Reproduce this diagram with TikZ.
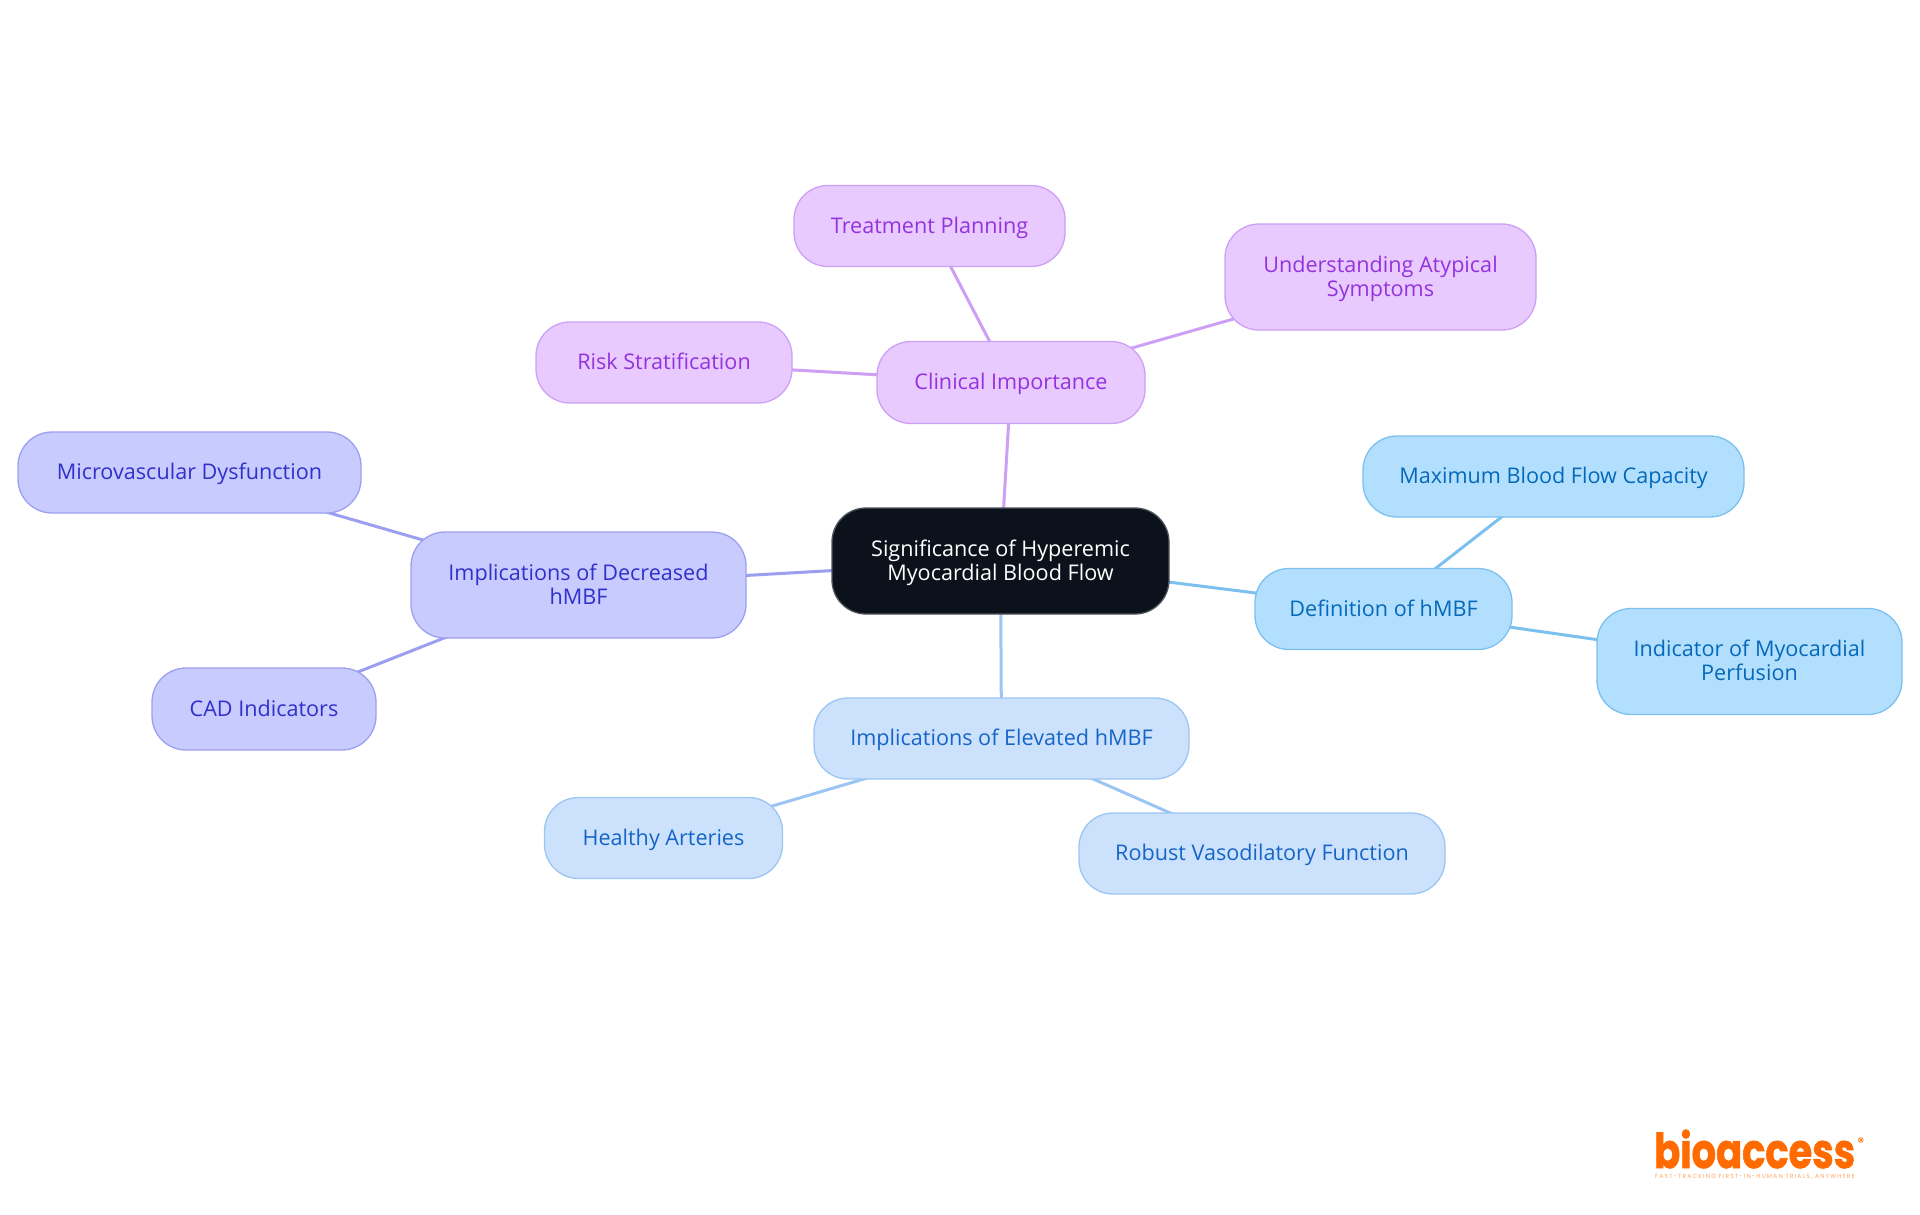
\documentclass[tikz,border=0pt]{standalone}
\usepackage{fontspec}
\setmainfont{Open Sans}
\newfontfamily\logofont{Poppins}
\definecolor{rootfill}{HTML}{0B121B}
\definecolor{rootline}{HTML}{50555B}
\definecolor{purfill}{HTML}{E8CAFF}
\definecolor{purline}{HTML}{CD9FF5}
\definecolor{purtext}{HTML}{9333DD}
\definecolor{skyfill}{HTML}{B3DFFF}
\definecolor{skyline}{HTML}{7CC0F0}
\definecolor{skytext}{HTML}{0668B8}
\definecolor{blufill}{HTML}{CCE2FC}
\definecolor{bluline}{HTML}{9BC5F2}
\definecolor{blutext}{HTML}{1565C8}
\definecolor{indfill}{HTML}{C8CBFD}
\definecolor{indline}{HTML}{9C9FF0}
\definecolor{indtext}{HTML}{3030CC}
\definecolor{logoorange}{HTML}{FF6B00}
\newcommand\topst{\rule{0pt}{22pt}}
\newcommand\botst{\rule[-8pt]{0pt}{8pt}}
\pgfdeclarelayer{bg}
\pgfsetlayers{bg,main}
\tikzset{
  box/.style={rectangle, rounded corners=34pt, line width=1.3pt, inner sep=0pt, align=center,
    font=\fontsize{21.6}{24}\selectfont},
  oneline/.style={execute at begin node=\topst, execute at end node=\botst},
  rootbox/.style={box, fill=rootfill, draw=rootline, text=white},
  purbox/.style={box, fill=purfill, draw=purline, text=purtext},
  skybox/.style={box, fill=skyfill, draw=skyline, text=skytext},
  blubox/.style={box, fill=blufill, draw=bluline, text=blutext},
  indbox/.style={box, fill=indfill, draw=indline, text=indtext},
  link/.style={line width=3pt},
  size/.style n args={2}{minimum width=#1, minimum height=#2}
}
\begin{document}
\begin{tikzpicture}[x=1pt,y=-1pt]
\useasboundingbox (0,0) rectangle (1920,1215);
\node[rootbox,size={337pt}{106pt}] (root) at (1000.5,561) {\topst Significance of Hyperemic\\Myocardial Blood Flow\botst};
\node[purbox,oneline,size={268pt}{82pt}] (clin) at (1011,382.5) {Clinical Importance};
\node[purbox,oneline,size={271pt}{81pt}] (treat) at (929.5,226) {Treatment Planning};
\node[purbox,size={311pt}{106pt}] (atyp) at (1380.5,277) {\topst Understanding Atypical\\Symptoms\botst};
\node[purbox,oneline,size={256pt}{81pt}] (risk) at (664,362.5) {Risk Stratification};
\node[indbox,size={335pt}{106pt}] (dec) at (578.5,585) {\topst Implications of Decreased\\hMBF\botst};
\node[indbox,oneline,size={343pt}{81pt}] (micro) at (189.5,472.5) {Microvascular Dysfunction};
\node[indbox,oneline,size={224pt}{82pt}] (cad) at (264,709) {CAD Indicators};
\node[blubox,oneline,size={375pt}{81pt}] (elev) at (1001.5,738.5) {Implications of Elevated hMBF};
\node[blubox,oneline,size={238pt}{81pt}] (heal) at (663.5,838) {Healthy Arteries};
\node[blubox,oneline,size={366pt}{81pt}] (rob) at (1262,853.5) {Robust Vasodilatory Function};
\node[skybox,oneline,size={257pt}{81pt}] (defn) at (1383.5,609) {Definition of hMBF};
\node[skybox,oneline,size={381pt}{81pt}] (maxb) at (1553.5,476.5) {Maximum Blood Flow Capacity};
\node[skybox,size={305pt}{106pt}] (indi) at (1749.5,661.5) {\topst Indicator of Myocardial\\Perfusion\botst};
\begin{pgfonlayer}{bg}
\draw[link,purline] (root.center) -- (clin.center);
\draw[link,purline] (clin.center) -- (treat.center);
\draw[link,purline] (clin.center) -- (atyp.center);
\draw[link,purline] (clin.center) -- (risk.center);
\draw[link,indline] (root.center) -- (dec.center);
\draw[link,indline] (dec.center) -- (micro.center);
\draw[link,indline] (dec.center) -- (cad.center);
\draw[link,bluline] (root.center) -- (elev.center);
\draw[link,bluline] (elev.center) -- (heal.center);
\draw[link,bluline] (elev.center) -- (rob.center);
\draw[link,skyline] (root.center) -- (defn.center);
\draw[link,skyline] (defn.center) -- (maxb.center);
\draw[link,skyline] (defn.center) -- (indi.center);
\end{pgfonlayer}
\node[text=logoorange,inner sep=0pt,anchor=base west,font=\logofont\bfseries\fontsize{48}{48}\selectfont] (logo) at (1654,1168) {\scalebox{0.80}[1]{\addfontfeature{FakeBold=1.5}bioaccess}};
\node[text=logoorange,inner sep=0pt,font=\logofont\bfseries\fontsize{12}{12}\selectfont] (reg) at (1861,1142) {®};
\node[text=logoorange!60,inner sep=0pt,anchor=west,font=\logofont\fontsize{6}{6}\selectfont] (tag) at (1655,1177) {\addfontfeature{LetterSpace=19.5}FAST-TRACKING FIRST-IN-HUMAN TRIALS, ANYWHERE};
\end{tikzpicture}
\end{document}
